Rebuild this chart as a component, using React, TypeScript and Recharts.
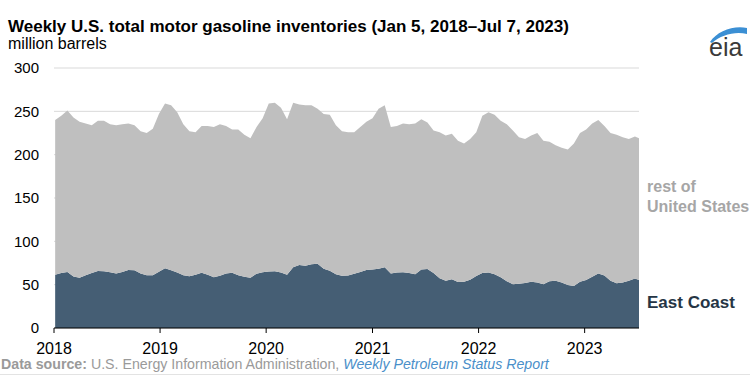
import React from 'react';
import { AreaChart, Area, XAxis, YAxis, CartesianGrid } from 'recharts';

// week-ending dates, sampled every third week
const weeks = [
  '2018-01-05', '2018-01-26', '2018-02-16', '2018-03-09', '2018-03-30', '2018-04-20', '2018-05-11', '2018-06-01', '2018-06-22',
  '2018-07-13', '2018-08-03', '2018-08-24', '2018-09-14', '2018-10-05', '2018-10-26', '2018-11-16', '2018-12-07', '2018-12-28',
  '2019-01-18', '2019-02-08', '2019-03-01', '2019-03-22', '2019-04-12', '2019-05-03', '2019-05-24', '2019-06-14', '2019-07-05',
  '2019-07-26', '2019-08-16', '2019-09-06', '2019-09-27', '2019-10-18', '2019-11-08', '2019-11-29', '2019-12-20',
  '2020-01-10', '2020-01-31', '2020-02-21', '2020-03-13', '2020-04-03', '2020-04-24', '2020-05-15', '2020-06-05', '2020-06-26',
  '2020-07-17', '2020-08-07', '2020-08-28', '2020-09-18', '2020-10-09', '2020-10-30', '2020-11-20', '2020-12-11',
  '2021-01-01', '2021-01-22', '2021-02-12', '2021-03-05', '2021-03-26', '2021-04-16', '2021-05-07', '2021-05-28', '2021-06-18',
  '2021-07-09', '2021-07-30', '2021-08-20', '2021-09-10', '2021-10-01', '2021-10-22', '2021-11-12', '2021-12-03', '2021-12-24',
  '2022-01-14', '2022-02-04', '2022-02-25', '2022-03-18', '2022-04-08', '2022-04-29', '2022-05-20', '2022-06-10', '2022-07-01',
  '2022-07-22', '2022-08-12', '2022-09-02', '2022-09-23', '2022-10-14', '2022-11-04', '2022-11-25', '2022-12-16',
  '2023-01-06', '2023-01-27', '2023-02-17', '2023-03-10', '2023-03-31', '2023-04-21', '2023-05-12', '2023-06-02', '2023-06-23',
  '2023-07-07',
];

// million barrels
const eastCoast = [
  61.5, 63.5, 64.5, 59.5, 58, 61, 63.5, 65.7, 65.5, 64.2, 63, 64.5, 67, 66.5, 63, 61, 61, 65,
  69, 66.5, 64, 61, 59.8, 61.5, 63.7, 61.5, 58.5, 60.3, 63, 63.8, 61, 59, 58, 62.7, 64.2,
  65.1, 65.6, 64, 61.5, 70, 72.6, 71.9, 73.5, 74, 68.5, 66, 62, 60.4, 60.6, 62.5, 64.5, 66.9,
  67.5, 68.5, 70, 63, 64, 64.2, 63.5, 62, 67.5, 68, 63.5, 57.5, 54.5, 56.3, 53, 53.5, 55.8, 60,
  63.5, 64, 62, 58.5, 54, 50.5, 51, 52, 53.5, 52.5, 50.4, 54, 54.5, 52.5, 49.5, 48.5, 53.4,
  55.5, 59, 63, 60.5, 54.5, 51.5, 52.5, 54.5, 57, 55.5,
];

const restOfUS = [
  178.5, 181.5, 186.5, 183.5, 180, 175, 170.5, 173.3, 173.5, 170.8, 171, 170.5, 169, 167.5, 164, 164, 169, 182,
  190, 190.5, 185, 174, 167.2, 164.5, 169.3, 171.5, 173.5, 174.7, 170, 165.2, 168, 164, 161, 169.3, 177.8,
  193.9, 194.4, 190, 179.5, 190, 185.4, 185.1, 183.5, 179, 178.5, 180, 172, 166.6, 165.4, 163.5, 167.5, 171.1,
  174.5, 184.5, 187, 169, 169, 171.8, 171.5, 174, 173.5, 169, 164.5, 168.5, 167.5, 167.7, 163, 159.5, 162.2, 166,
  181.5, 185, 184, 180.5, 181, 177.5, 169, 166, 168.5, 172.5, 165.6, 161, 156.5, 155.5, 156.5, 164.5, 171.6,
  173.5, 177, 177, 172.5, 170.5, 171.5, 167.5, 163.5, 164, 163.5,
];

const yearTicks = ['2018-01-01', '2019-01-01', '2020-01-01', '2021-01-01', '2022-01-01', '2023-01-01'];
const yTicks = [0, 50, 100, 150, 200, 250, 300];

const ts = (d: string) => new Date(d).getTime();

const data = weeks.map((w, i) => ({ t: ts(w), east: eastCoast[i], rest: restOfUS[i] }));

const font = '"Liberation Sans", Arial, sans-serif';

const App: React.FC = () => {
  return (
    <div style={{ position: 'absolute', left: 0, top: 0, width: 750, height: 375, overflow: 'hidden', fontFamily: font, background: '#fff' }}>
      <div style={{ position: 'absolute', left: 8, top: 17, fontSize: 17, fontWeight: 700, color: '#000', whiteSpace: 'nowrap' }}>
        Weekly U.S. total motor gasoline inventories (Jan 5, 2018–Jul 7, 2023)
      </div>
      <div style={{ position: 'absolute', left: 8, top: 35, fontSize: 16, color: '#000', whiteSpace: 'nowrap' }}>
        million barrels
      </div>

      {/* eia logo */}
      <svg style={{ position: 'absolute', left: 706, top: 26 }} width={44} height={36}>
        <path d="M4 16 C 11 5, 28 -1, 41 2 L 41 8 C 29 5, 15 9, 6 17 Z" fill="#3b8fd4" />
        <text x={3} y={30} fontSize={25} fill="#3a3a3a" fontFamily={font}>eia</text>
      </svg>

      <AreaChart width={750} height={375} data={data} margin={{ top: 68, right: 111, bottom: 17, left: 0 }}>
        <CartesianGrid vertical={false} stroke="#d9d9d9" />
        <XAxis
          dataKey="t"
          type="number"
          scale="time"
          domain={[ts('2018-01-01'), ts('2023-07-07')]}
          ticks={yearTicks.map(ts)}
          tickFormatter={(v: number) => String(new Date(v).getUTCFullYear())}
          height={30}
          tickSize={5}
          tickMargin={10}
          axisLine={{ stroke: '#000' }}
          tickLine={{ stroke: '#000' }}
          tick={{ fill: '#000', fontSize: 16, fontFamily: font }}
          allowDataOverflow
        />
        <YAxis
          type="number"
          domain={[0, 300]}
          ticks={yTicks}
          width={54}
          axisLine={false}
          tickLine={false}
          tickSize={0}
          tickMargin={15}
          tick={{ fill: '#000', fontSize: 15, fontFamily: font }}
        />
        <Area type="linear" dataKey="east" stackId="1" stroke="none" fill="#455e74" fillOpacity={1} isAnimationActive={false} />
        <Area type="linear" dataKey="rest" stackId="1" stroke="none" fill="#bfbfbf" fillOpacity={1} isAnimationActive={false} />
      </AreaChart>

      <div style={{ position: 'absolute', left: 647, top: 177, fontSize: 16, fontWeight: 700, color: '#a6a6a6', lineHeight: '20px', whiteSpace: 'nowrap' }}>
        rest of<br />United States
      </div>
      <div style={{ position: 'absolute', left: 647, top: 293, fontSize: 17, fontWeight: 700, color: '#253545', whiteSpace: 'nowrap' }}>
        East Coast
      </div>

      <div style={{ position: 'absolute', left: 1, top: 356, fontSize: 14.2, color: '#9a9a9a', whiteSpace: 'nowrap' }}>
        <b>Data source:</b> U.S. Energy Information Administration,{' '}
        <i style={{ color: '#4a8fc9' }}>Weekly Petroleum Status Report</i>
      </div>
      <div style={{ position: 'absolute', left: 0, top: 374, width: 750, height: 1, background: '#e3e3e3' }} />
    </div>
  );
};

export default App;
